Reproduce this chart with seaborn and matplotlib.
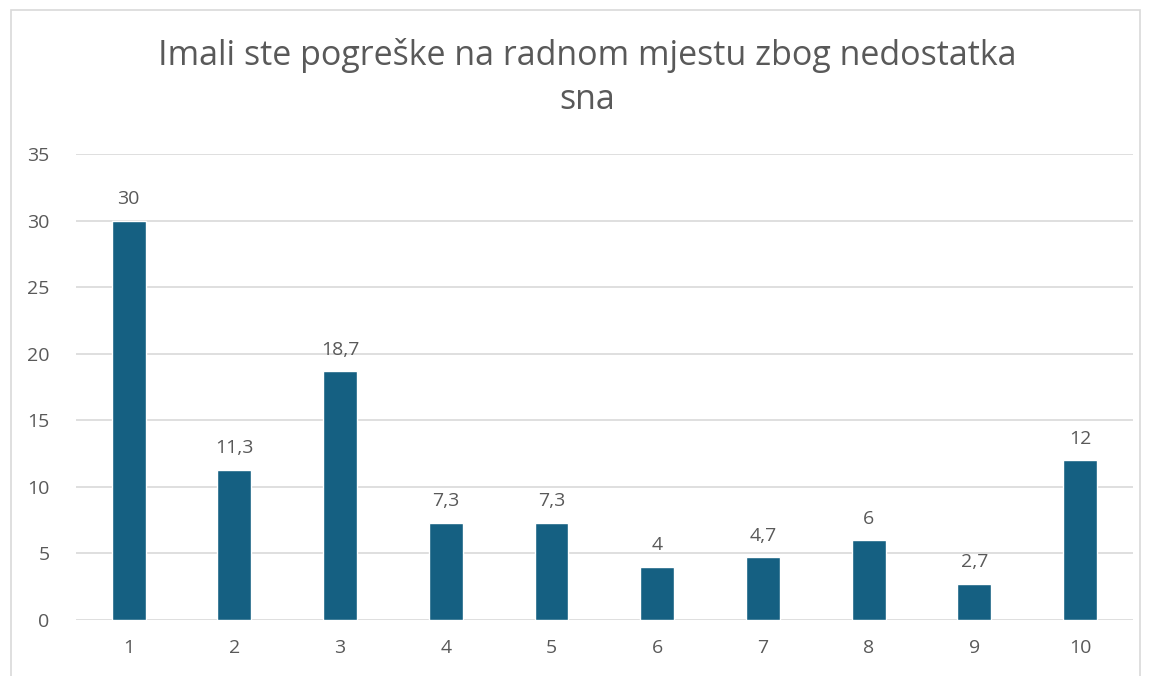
import matplotlib.pyplot as plt
from matplotlib.patches import Rectangle
import seaborn as sns
import pandas as pd

# Data
categories = ['1', '2', '3', '4', '5', '6', '7', '8', '9', '10']
values = [30, 11.3, 18.7, 7.3, 7.3, 4, 4.7, 6, 2.7, 12]
title = 'Imali ste pogreške na radnom mjestu zbog nedostatka\nsna'

df = pd.DataFrame({'cat': categories, 'val': values})

sns.set_style('white')
plt.rcParams['font.family'] = ['Open Sans', 'DejaVu Sans']

text_color = '#595959'
bar_color = '#156082'

fig = plt.figure(figsize=(11.49, 6.76), dpi=100)
ax = fig.add_axes([0.066, 0.083, 0.92, 0.689])

sns.barplot(data=df, x='cat', y='val', color=bar_color, width=0.32,
            saturation=1, ax=ax, zorder=3)

ax.set_ylim(0, 35)
ax.set_yticks(range(0, 36, 5))
ax.yaxis.grid(True, color='#d9d9d9', linewidth=1.2, zorder=0)
ax.set_xlabel('')
ax.set_ylabel('')
for s in ax.spines.values():
    s.set_visible(False)
ax.tick_params(axis='both', length=0, labelsize=14, colors=text_color)
ax.tick_params(axis='y', pad=19)
ax.tick_params(axis='x', pad=14)

# Data labels with comma decimal separator
labels = [f'{v:g}'.replace('.', ',') for v in values]
ax.bar_label(ax.containers[0], labels=labels, padding=9, fontsize=14, color=text_color)

fig.text(0.511, 0.885, title, ha='center', va='center', fontsize=24.5,
         color=text_color, linespacing=1.4)

# Light chart-area frame
fig.patches.append(Rectangle((0.0095, -0.02), 0.983, 1.005, transform=fig.transFigure,
                             fill=False, edgecolor='#d9d9d9', linewidth=1.2))

fig.savefig('out.png', dpi=100, facecolor='white')
